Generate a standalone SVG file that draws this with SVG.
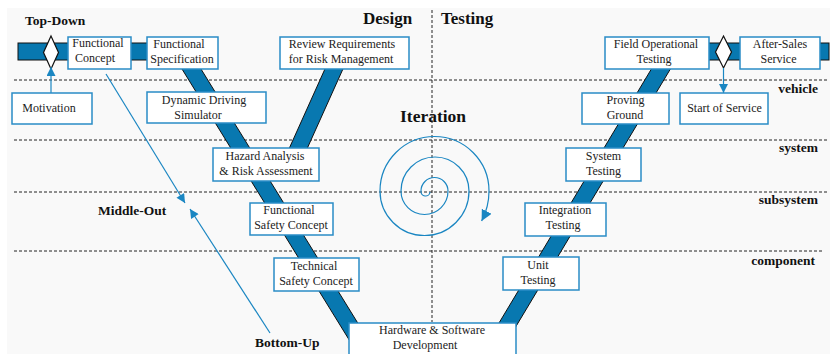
<svg xmlns="http://www.w3.org/2000/svg" width="830" height="354" viewBox="0 0 830 354">
<defs>
<style>
.box{fill:#fff;stroke:#2a8cc6;stroke-width:1.5}
.t{font-family:"Liberation Serif",serif;font-size:12px;fill:#222;text-anchor:middle}
.b{font-family:"Liberation Serif",serif;font-weight:bold;fill:#111}
.band{fill:#0878b0;stroke:#111;stroke-width:1}
.dash{stroke:#222;stroke-width:1;stroke-dasharray:3 2;fill:none}
.arr{stroke:#1a86c2;stroke-width:1.2;fill:none}
.dia{fill:#fff;stroke:#111;stroke-width:1.2}
</style>
<marker id="ah" viewBox="0 0 10 10" refX="10" refY="5" markerWidth="10" markerHeight="9" markerUnits="userSpaceOnUse" orient="auto"><path d="M0,0 L10,5 L0,10 z" fill="#1a86c2"/></marker>
<marker id="ahs" viewBox="0 0 10 10" refX="10" refY="5" markerWidth="11" markerHeight="11" markerUnits="userSpaceOnUse" orient="auto"><path d="M0,0 L10,5 L0,10 z" fill="#1a86c2"/></marker>
</defs>
<rect x="0" y="0" width="830" height="354" fill="#fff"/>
<rect x="7" y="8" width="823" height="346" fill="#f9f9f9"/>
<g id="levels">
<line class="dash" x1="14" y1="80" x2="827" y2="80"/>
<line class="dash" x1="14" y1="140" x2="827" y2="140"/>
<line class="dash" x1="14" y1="192" x2="827" y2="192"/>
<line class="dash" x1="14" y1="251" x2="823" y2="251"/>
<line class="dash" x1="432" y1="10" x2="432" y2="322"/>
</g>
<g id="bands">
<rect class="band" x="18" y="43" width="150" height="17"/>
<rect class="band" x="690" y="43" width="139" height="17"/>
<polygon class="band" points="178.9,64 197.9,64 373.8,349 354.8,349"/>
<polygon class="band" points="654.4,64 673.4,64 502.4,349 483.4,349"/>
<polygon class="band" points="327.2,64 345.2,64 297.5,170 279.5,170"/>
</g>
<g id="connectors">
<path class="arr" d="M106,74 L185,203" marker-end="url(#ah)"/>
<path class="arr" d="M270,333 L190,209" marker-end="url(#ah)"/>
<path class="arr" d="M430,192 A4.5 4.5 0 0 1 421,191 A13.5 13.5 0 0 1 448,191 A23.5 23.5 0 0 1 401,191 A34 34 0 0 1 469,191 A44.5 44.5 0 0 1 380,191 A54.5 54.5 0 0 1 489,191 A64.5 64.5 0 0 1 481.6,221" marker-end="url(#ahs)"/>
</g>
<g id="diamond-left"><polygon class="dia" points="51,36 58.5,52.5 51,69 43.5,52.5"/></g>
<g id="diamond-right"><polygon class="dia" points="723.5,36 731.5,52 723.5,68 715.5,52"/></g>
<g id="arrows-vertical">
<path class="arr" d="M51,93 L51,67" marker-end="url(#ah)"/>
<path class="arr" d="M723.5,68 L723.5,93" marker-end="url(#ah)"/>
</g>
<g id="motivation"><rect class="box" x="12" y="93" width="80" height="31"/><text class="t" x="49" y="112">Motivation</text></g>
<g id="functional-concept"><rect class="box" x="68" y="37" width="63" height="32"/><text class="t" x="98" y="47">Functional</text><text class="t" x="95" y="62">Concept</text></g>
<g id="functional-specification"><rect class="box" x="147" y="37" width="71" height="32"/><text class="t" x="179" y="48">Functional</text><text class="t" x="182" y="63">Specification</text></g>
<g id="review-requirements"><rect class="box" x="280" y="37" width="129" height="32"/><text class="t" x="342" y="48">Review Requirements</text><text class="t" x="341" y="63">for Risk Management</text></g>
<g id="dynamic-driving-simulator"><rect class="box" x="147" y="92" width="119" height="31"/><text class="t" x="204" y="104">Dynamic Driving</text><text class="t" x="198" y="119">Simulator</text></g>
<g id="hazard-analysis"><rect class="box" x="213" y="148" width="106" height="33"/><text class="t" x="265" y="160">Hazard Analysis</text><text class="t" x="266" y="175">&amp; Risk Assessment</text></g>
<g id="functional-safety-concept"><rect class="box" x="250" y="203" width="83" height="32"/><text class="t" x="289" y="214">Functional</text><text class="t" x="291" y="229">Safety Concept</text></g>
<g id="technical-safety-concept"><rect class="box" x="274" y="258" width="85" height="33"/><text class="t" x="314" y="270">Technical</text><text class="t" x="316" y="285">Safety Concept</text></g>
<g id="hw-sw-development"><rect class="box" x="349" y="323" width="167" height="40"/><text class="t" x="432" y="334">Hardware &amp; Software</text><text class="t" x="425" y="349">Development</text></g>
<g id="unit-testing"><rect class="box" x="503" y="257" width="76" height="33"/><text class="t" x="538" y="269">Unit</text><text class="t" x="538" y="284">Testing</text></g>
<g id="integration-testing"><rect class="box" x="525" y="203" width="81" height="33"/><text class="t" x="565" y="214">Integration</text><text class="t" x="563" y="229">Testing</text></g>
<g id="system-testing"><rect class="box" x="566" y="148" width="75" height="33"/><text class="t" x="603.5" y="160">System</text><text class="t" x="603.5" y="175">Testing</text></g>
<g id="proving-ground"><rect class="box" x="582" y="93" width="87" height="31"/><text class="t" x="625.5" y="104">Proving</text><text class="t" x="625" y="119">Ground</text></g>
<g id="field-operational-testing"><rect class="box" x="605" y="37" width="104" height="32"/><text class="t" x="656" y="48">Field Operational</text><text class="t" x="654" y="63">Testing</text></g>
<g id="after-sales-service"><rect class="box" x="740" y="37" width="80" height="32"/><text class="t" x="780" y="48">After-Sales</text><text class="t" x="778.5" y="63">Service</text></g>
<g id="start-of-service"><rect class="box" x="680" y="93" width="88" height="31"/><text class="t" x="724.5" y="112">Start of Service</text></g>
<g id="labels">
<text class="b" x="25" y="25" font-size="13.5">Top-Down</text>
<text class="b" x="363" y="24" font-size="17">Design</text>
<text class="b" x="441" y="24" font-size="17">Testing</text>
<text class="b" x="400" y="122" font-size="17.5">Iteration</text>
<text class="b" x="98" y="215" font-size="13.5">Middle-Out</text>
<text class="b" x="255" y="347" font-size="13.5">Bottom-Up</text>
<text class="b" x="818" y="93" font-size="13.5" text-anchor="end">vehicle</text>
<text class="b" x="818" y="152" font-size="13.5" text-anchor="end">system</text>
<text class="b" x="818" y="204" font-size="13.5" text-anchor="end">subsystem</text>
<text class="b" x="815" y="265" font-size="13.5" text-anchor="end">component</text>
</g>
</svg>
